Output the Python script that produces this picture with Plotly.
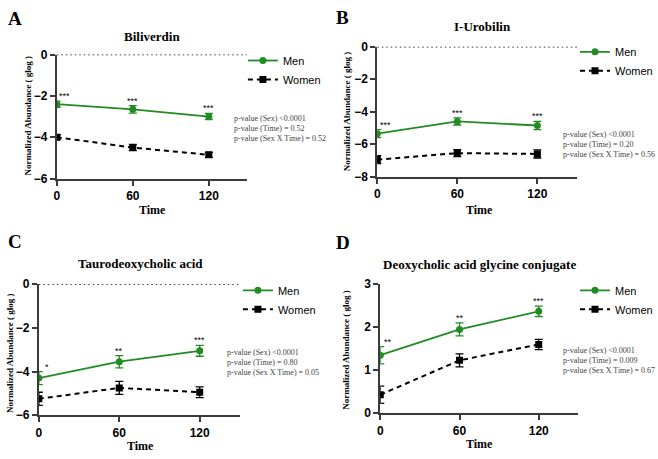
import plotly.graph_objects as go

W, H = 658, 459

time = [0, 60, 120]
titles = ["Biliverdin", "I-Urobilin", "Taurodeoxycholic acid", "Deoxycholic acid glycine conjugate"]
letters = ["A", "B", "C", "D"]

men_vals = [[-2.4, -2.65, -3.0], [-5.35, -4.6, -4.85], [-4.3, -3.55, -3.05], [1.35, 1.95, 2.37]]
men_err = [[0.15, 0.18, 0.15], [0.25, 0.22, 0.25], [0.3, 0.28, 0.25], [0.2, 0.15, 0.12]]
women_vals = [[-4.0, -4.5, -4.85], [-6.95, -6.55, -6.6], [-5.25, -4.75, -4.95], [0.43, 1.23, 1.6]]
women_err = [[0.12, 0.15, 0.12], [0.25, 0.22, 0.25], [0.3, 0.3, 0.25], [0.2, 0.15, 0.12]]
stars = [["***", "***", "***"], ["***", "***", "***"], ["*", "**", "***"], ["**", "**", "***"]]
pvals = [
    ["p-value (Sex) <0.0001", "p-value (Time) = 0.52", "p-value (Sex X Time) = 0.52"],
    ["p-value (Sex) <0.0001", "p-value (Time) = 0.20", "p-value (Sex X Time) = 0.56"],
    ["p-value (Sex) <0.0001", "p-value (Time) = 0.80", "p-value (Sex X Time) = 0.05"],
    ["p-value (Sex) <0.0001", "p-value (Time) = 0.009", "p-value (Sex X Time) = 0.67"],
]
y_ranges = [[-6, 0], [-8, 0], [-6, 0], [0, 3]]
y_ticks = [[-6, -4, -2, 0], [-8, -6, -4, -2, 0], [-6, -4, -2, 0], [0, 1, 2, 3]]
x_ticks = [0, 60, 120]
y_title = "Normalized Abundance ( glog )"
x_title = "Time"

# layout geometry (pixels): left, right, top, bottom of plot area
boxes = [(54, 245, 49, 177), (376, 577, 41, 175), (36, 238, 286, 421), (379, 578, 286, 419)]
title_pos = [(150, 30), (482, 20), (138, 265), (479, 266)]
letter_pos = [(3, 12), (333, 11), (3, 242), (333, 243)]
legend_pos = [(241, 65), (575, 56), (236, 302), (575, 302)]
pval_pos = [(230, 115), (561, 131), (223, 356), (561, 354)]
ytitle_pos = [(25, 112), (345, 107), (7, 357), (345, 353)]
xtitle_pos = [(150, 209), (479, 209), (138, 453), (479, 451)]

GREEN = "#228B22"
AX = "#3a3a3a"
SERIF = "Liberation Serif, Times New Roman, serif"
SANS = "Liberation Sans, Arial, sans-serif"

fig = go.Figure()
annotations = []
shapes = []

def px(x, y):
    return x / W, 1 - y / H

for i in range(4):
    xa = "x" if i == 0 else f"x{i+1}"
    ya = "y" if i == 0 else f"y{i+1}"
    lg = "legend" if i == 0 else f"legend{i+1}"
    fig.add_trace(go.Scatter(
        x=time, y=men_vals[i], xaxis=xa, yaxis=ya, name="Men", legend=lg,
        mode="lines+markers",
        line=dict(color=GREEN, width=1.8),
        marker=dict(symbol="circle", size=7, color=GREEN),
        error_y=dict(type="data", array=men_err[i], color=GREEN, thickness=1.3, width=4),
    ))
    fig.add_trace(go.Scatter(
        x=time, y=women_vals[i], xaxis=xa, yaxis=ya, name="Women", legend=lg,
        mode="lines+markers",
        line=dict(color="black", width=2, dash="5px,4px"),
        marker=dict(symbol="square", size=7, color="black"),
        error_y=dict(type="data", array=women_err[i], color="black", thickness=1.3, width=4),
    ))
    l, r, t, b = boxes[i]
    dom_x = [l / W, r / W]
    dom_y = [1 - b / H, 1 - t / H]
    axis_common = dict(showline=True, linecolor=AX, linewidth=2, ticks="outside",
                       tickcolor=AX, tickwidth=2, ticklen=5, showgrid=False, zeroline=False,
                       tickfont=dict(family=SANS, size=12, color="black", weight="bold"))
    lx, ly = px(*legend_pos[i])
    fig.update_layout(**{
        ("xaxis" if i == 0 else f"xaxis{i+1}"): dict(
            domain=dom_x, anchor=ya, range=[0, 150], tickvals=x_ticks, **axis_common),
        ("yaxis" if i == 0 else f"yaxis{i+1}"): dict(
            domain=dom_y, anchor=xa, range=y_ranges[i], tickvals=y_ticks[i], **axis_common),
        lg: dict(x=lx, y=ly, xanchor="left", yanchor="middle",
                 font=dict(family=SANS, size=11, color="black"), bgcolor="rgba(0,0,0,0)",
                 itemwidth=30, tracegroupgap=0),
    })
    if y_ranges[i][1] == 0:
        shapes.append(dict(type="line", xref=xa, yref=ya, x0=0, x1=150, y0=0, y1=0,
                           line=dict(color="black", width=1.3, dash="1.5px,3px")))
    tx, ty = px(*title_pos[i])
    annotations.append(dict(text=titles[i], x=tx, y=ty, xref="paper", yref="paper", showarrow=False,
                            xanchor="center", yanchor="middle",
                            font=dict(family=SERIF, size=13, color="black", weight="bold")))
    lx2, ly2 = px(*letter_pos[i])
    annotations.append(dict(text=letters[i], x=lx2, y=ly2, xref="paper", yref="paper", showarrow=False,
                            xanchor="left", yanchor="middle",
                            font=dict(family=SERIF, size=19, color="black", weight="bold")))
    yx, yy = px(*ytitle_pos[i])
    annotations.append(dict(text=y_title, x=yx, y=yy, xref="paper", yref="paper", showarrow=False,
                            xanchor="center", yanchor="middle", textangle=-90,
                            font=dict(family=SERIF, size=9, color="black", weight="bold")))
    xx, xy = px(*xtitle_pos[i])
    annotations.append(dict(text=x_title, x=xx, y=xy, xref="paper", yref="paper", showarrow=False,
                            xanchor="center", yanchor="middle",
                            font=dict(family=SERIF, size=12, color="black", weight="bold")))
    for k, txt in enumerate(pvals[i]):
        ppx, ppy = px(pval_pos[i][0], pval_pos[i][1] + k * 10.5)
        annotations.append(dict(text=txt, x=ppx, y=ppy, xref="paper", yref="paper", showarrow=False,
                                xanchor="left", yanchor="middle",
                                font=dict(family=SERIF, size=8, color="#444444")))
    for k in range(3):
        annotations.append(dict(text=stars[i][k], x=time[k], y=men_vals[i][k] + men_err[i][k],
                                xref=xa, yref=ya, showarrow=False, xanchor="center", yanchor="bottom",
                                xshift=8 if k == 0 else 0, yshift=-2,
                                font=dict(family=SANS, size=9, color="black")))

fig.update_layout(
    width=W, height=H, margin=dict(l=0, r=0, t=0, b=0),
    paper_bgcolor="white", plot_bgcolor="white",
    annotations=annotations, shapes=shapes, showlegend=True,
)

fig.write_html("out.html", config={"displayModeBar": False},
               post_script="document.body.style.margin='0';document.body.style.overflow='hidden';")
